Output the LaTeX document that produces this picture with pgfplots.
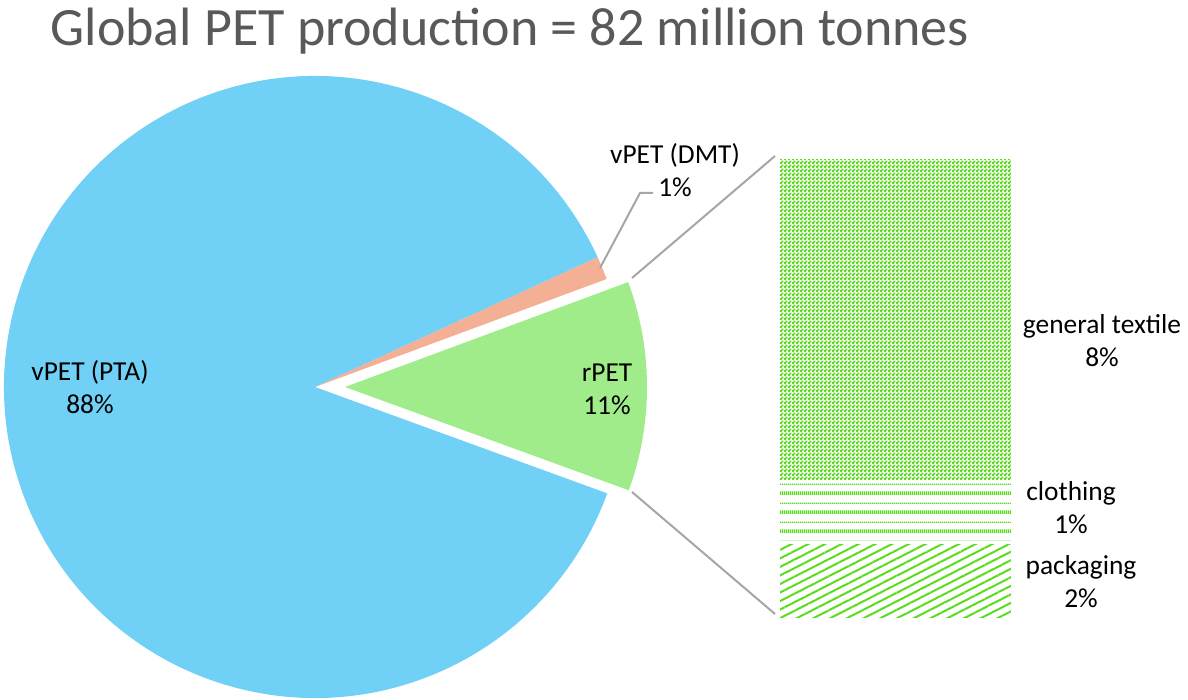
\documentclass[border=0pt]{standalone}
\usepackage{fontspec}
\setmainfont{Carlito}
\usepackage{pgfplots}
\pgfplotsset{compat=1.18}
\usetikzlibrary{patterns.meta}

\definecolor{ptaBlue}{RGB}{112,208,246}
\definecolor{dmtSalmon}{RGB}{244,176,148}
\definecolor{rpetGreen}{RGB}{160,236,138}
\definecolor{patGreen}{RGB}{88,221,30}
\definecolor{leadGray}{RGB}{166,166,166}
\definecolor{titleGray}{RGB}{89,89,89}

% fill patterns of the bar
\pgfdeclarepattern{
  name=textile, type=uncolored,
  bottom left={\pgfpoint{0pt}{0pt}}, top right={\pgfpoint{2pt}{2pt}},
  tile size={\pgfpoint{2pt}{2pt}},
  code={
    \pgfpathrectangle{\pgfpoint{-0.1pt}{-0.1pt}}{\pgfpoint{1.2pt}{1.2pt}}
    \pgfpathrectangle{\pgfpoint{0.9pt}{0.9pt}}{\pgfpoint{1.2pt}{1.2pt}}
    \pgfusepath{fill}
  }
}
\pgfdeclarepattern{
  name=clothlines, type=uncolored,
  bottom left={\pgfpoint{0pt}{0pt}}, top right={\pgfpoint{1pt}{9.25pt}},
  tile size={\pgfpoint{1pt}{9.25pt}},
  code={
    \pgfpathrectangle{\pgfpoint{-0.1pt}{0pt}}{\pgfpoint{1.2pt}{1.8pt}}
    \pgfpathrectangle{\pgfpoint{-0.1pt}{5.1pt}}{\pgfpoint{1.2pt}{0.6pt}}
    \pgfusepath{fill}
  }
}

% pie shares (%), counter-clockwise from the exploded slice
\def\shareRPET{11.2}
\def\shareDMT{1.2}
\def\sharePTA{87.6}
% bar shares (%), bottom to top
\def\sharePack{1.85}
\def\shareCloth{1.45}
\def\shareText{7.7}

\newcommand\lbl{\fontsize{13.7}{16.5}\selectfont}

\begin{document}
\begin{tikzpicture}
\pgfmathsetmacro\aA{-20}
\pgfmathsetmacro\aB{\aA+3.6*\shareRPET}
\pgfmathsetmacro\aC{\aB+3.6*\shareDMT}
\pgfmathsetmacro\aD{\aC+3.6*\sharePTA}
\begin{axis}[
  x=0.5pt, y=0.5pt,
  xmin=0, xmax=1188, ymin=0, ymax=700,
  hide axis, clip=false,
  anchor=south west, at={(0,0)}
]
% pie
\fill[ptaBlue] (axis cs:315,313) -- ++(\aC:155.5pt)
  arc[start angle=\aC, end angle=\aD, radius=155.5pt] -- cycle;
\fill[dmtSalmon] (axis cs:315,313) -- ++(\aB:155.5pt)
  arc[start angle=\aB, end angle=\aC, radius=155.5pt] -- cycle;
\fill[rpetGreen] (axis cs:345,313) -- ++(\aA:151pt)
  arc[start angle=\aA, end angle=\aB, radius=151pt] -- cycle;
% connectors
\draw[leadGray, line width=1pt] (axis cs:632,422) -- (axis cs:775,544);
\draw[leadGray, line width=1pt] (axis cs:632,208) -- (axis cs:775,86);
\draw[leadGray, line width=1pt] (axis cs:600,432) -- (axis cs:640,507) -- (axis cs:653,507);
% labels
\node[align=center, font=\lbl] at (axis cs:90,313) {vPET (PTA)\\88\%};
\node[align=center, font=\lbl] at (axis cs:607,311) {rPET\\11\%};
\node[align=center, font=\lbl] at (axis cs:675,530) {vPET (DMT)\\1\%};
\node[align=center, font=\lbl] at (axis cs:1102,359) {general textile\\8\%};
\node[align=center, font=\lbl] at (axis cs:1071,192) {clothing\\1\%};
\node[align=center, font=\lbl] at (axis cs:1081,118) {packaging\\2\%};
\node[anchor=base, text=titleGray, font=\fontsize{27}{32}\selectfont]
  at (axis cs:510,654) {Global PET production = 82 million tonnes};
\coordinate (barbase) at (axis cs:778,80);
\coordinate (frameSW) at (axis cs:0,0);
\coordinate (frameNE) at (axis cs:1188,700);
\end{axis}

\begin{axis}[
  at={(barbase)}, anchor=south west,
  scale only axis, width=117pt, height=231pt,
  xmin=-0.5, xmax=0.5, ymin=0, ymax=11,
  ybar stacked, bar width=117pt,
  hide axis, clip=false
]
\addplot[pattern={Lines[angle=27, distance=3.8pt, line width=1pt]},
  pattern color=patGreen, draw=white, line width=1.5pt]
  coordinates {(0,\sharePack)};
\addplot[pattern=clothlines, pattern color=patGreen, draw=white, line width=1.5pt]
  coordinates {(0,\shareCloth)};
\addplot[pattern=textile, pattern color=patGreen, draw=white, line width=1.5pt]
  coordinates {(0,\shareText)};
\end{axis}
% page = the 1188 x 700 frame (arc control points would widen it)
\pgfresetboundingbox
\path (frameSW) rectangle (frameNE);
\end{tikzpicture}%
\end{document}
